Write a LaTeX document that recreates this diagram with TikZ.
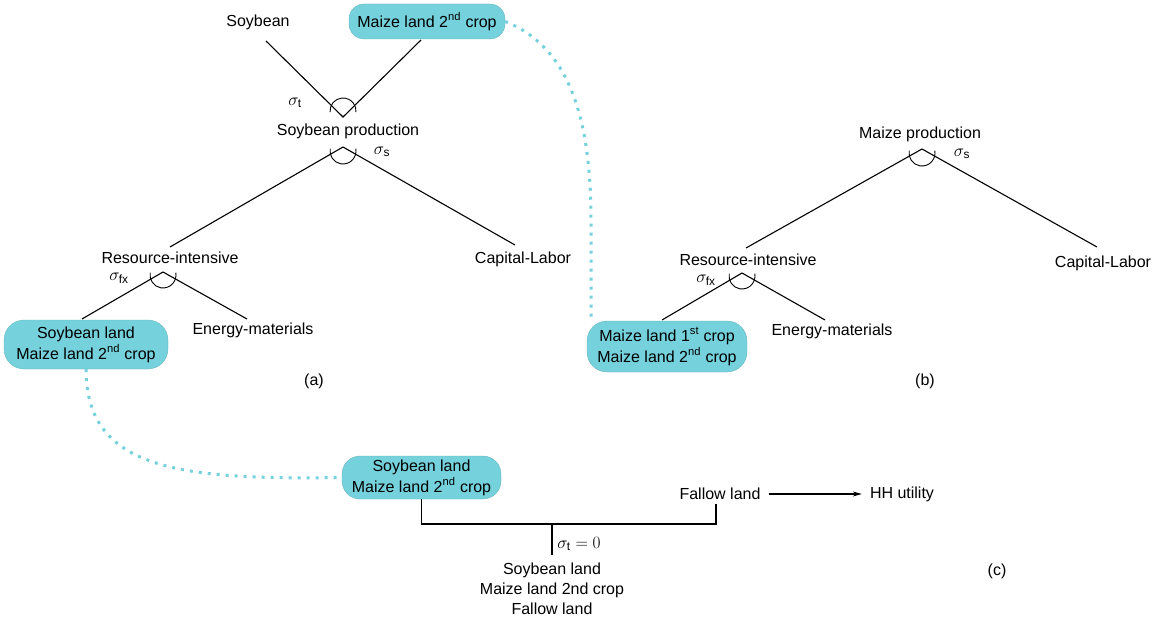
\documentclass[tikz,border=0pt]{standalone}
\usepackage{fontspec}
\setmainfont{Liberation Sans}
\usetikzlibrary{arrows.meta}
\definecolor{landcyan}{HTML}{75D1DC}
\begin{document}
\begin{tikzpicture}[x=1pt,y=-1pt,
  lbl/.style={font=\fontsize{16}{20}\selectfont, inner sep=0pt, align=center},
  sig/.style={font=\fontsize{17}{18}\selectfont, inner sep=0pt},
  landbox/.style={lbl, fill=landcyan, draw=landcyan!85!black, line width=0.3pt, rounded corners=16pt, font=\fontsize{16}{21}\selectfont},
  tree/.style={line width=1.1pt, black},
  dotline/.style={landcyan, line width=3pt, dash pattern=on 3pt off 6pt},
  cesarc/.style={line width=0.9pt, black}
]
\useasboundingbox (0,0) rectangle (1164,620);

% ---------------- (a) ----------------
\node[lbl] (soy) at (258,22) {Soybean};
\node[landbox, minimum width=156pt, minimum height=35pt, rounded corners=15pt] (topmaize) at (427,21.5) {Maize land 2\textsuperscript{nd} crop};
\coordinate (soyend) at (266,41);
\coordinate (maizeend) at (421,40);
\coordinate (apT) at (343,117);
\node[lbl] (soyprod) at (348,131) {Soybean production};
\coordinate (apS) at (343,147);
\node[lbl] (resA) at (170,258) {Resource-intensive};
\node[lbl] (capA) at (523,259) {Capital-Labor};
\coordinate (resAend) at (170,247);
\coordinate (capAend) at (515,245);
\coordinate (apR) at (163,272);
\node[landbox, minimum width=164pt, minimum height=49pt, rounded corners=20pt] (landA) at (86,344.5) {Soybean land\\Maize land 2\textsuperscript{nd} crop};
\node[lbl] (enA) at (253,330) {Energy-materials};
\coordinate (landAend) at (82,319);
\coordinate (enAend) at (247,319);
\node[lbl] (labA) at (314,381) {(a)};

\draw[tree] (soyend) -- (apT) -- (maizeend);
\draw[tree] (resAend) -- (apS) -- (capAend);
\draw[tree] (landAend) -- (apR) -- (enAend);

\draw[cesarc] ([shift={(0,-6)}]apT) ++(175:13) arc[start angle=175, end angle=365, radius=13];
\draw[cesarc] ([shift={(0,4)}]apS) ++(190:13) arc[start angle=190, end angle=-10, radius=13];
\draw[cesarc] ([shift={(0,3)}]apR) ++(190:13) arc[start angle=190, end angle=-10, radius=13];

\node[sig] (sigtA) at (295,103) {$\sigma_{\mathrm{t}}$};
\node[sig] (sigsA) at (382,152) {$\sigma_{\mathrm{s}}$};
\node[sig] (sigfA) at (119,278) {$\sigma_{\mathrm{fx}}$};

% ---------------- (b) ----------------
\node[lbl] (maizeprod) at (920,134) {Maize production};
\coordinate (apM) at (922,149);
\node[lbl] (resB) at (748,260) {Resource-intensive};
\node[lbl] (capB) at (1103,263) {Capital-Labor};
\coordinate (resBend) at (746,248);
\coordinate (capBend) at (1097,247);
\coordinate (apRB) at (742,273);
\node[landbox, minimum width=160pt, minimum height=51pt, rounded corners=20pt] (landB) at (667,346.5) {Maize land 1\textsuperscript{st} crop\\Maize land 2\textsuperscript{nd} crop};
\node[lbl] (enB) at (832,331) {Energy-materials};
\coordinate (landBend) at (662,320);
\coordinate (enBend) at (825,320);
\node[lbl] (labB) at (925,381) {(b)};

\draw[tree] (resBend) -- (apM) -- (capBend);
\draw[tree] (landBend) -- (apRB) -- (enBend);
\draw[cesarc] ([shift={(0,4)}]apM) ++(190:13) arc[start angle=190, end angle=-10, radius=13];
\draw[cesarc] ([shift={(0,3)}]apRB) ++(190:13) arc[start angle=190, end angle=-10, radius=13];

\node[sig] (sigsB) at (962,154) {$\sigma_{\mathrm{s}}$};
\node[sig] (sigfB) at (706,280) {$\sigma_{\mathrm{fx}}$};

% ---------------- (c) ----------------
\node[landbox, minimum width=159pt, minimum height=43pt, rounded corners=18pt] (landC) at (421.5,477.5) {Soybean land\\Maize land 2\textsuperscript{nd} crop};
\node[lbl] (fallow) at (720,494) {Fallow land};
\node[lbl] (hh) at (902,494) {HH utility};
\coordinate (jn) at (552,524);
\coordinate (fallowend) at (716,504);
\coordinate (stemend) at (552,555);
\node[lbl, font=\fontsize{16}{20}\selectfont] (allland) at (552,589) {Soybean land\\Maize land 2nd crop\\Fallow land};
\node[sig] (sigt0) at (579,544) {$\sigma_{\mathrm{t}}=0$};
\node[lbl] (labC) at (997,571) {(c)};

\draw[tree] (landC.south) |- (jn) -| (fallowend);
\draw[tree] (jn) -- (stemend);
\draw[line width=1.1pt, -{Stealth[length=9pt,width=5pt]}, shorten <=8pt, shorten >=8pt] (fallow.east) -- (hh.west);

% ---------------- dotted links ----------------
\coordinate (landBtop) at (591,322);
\draw[dotline] (topmaize.east) .. controls (565,45) and (591,110) .. (591,220) -- (landBtop);
\draw[dotline] (landA.south) .. controls (86,470) and (180,480) .. (landC.west);

\end{tikzpicture}
\end{document}
